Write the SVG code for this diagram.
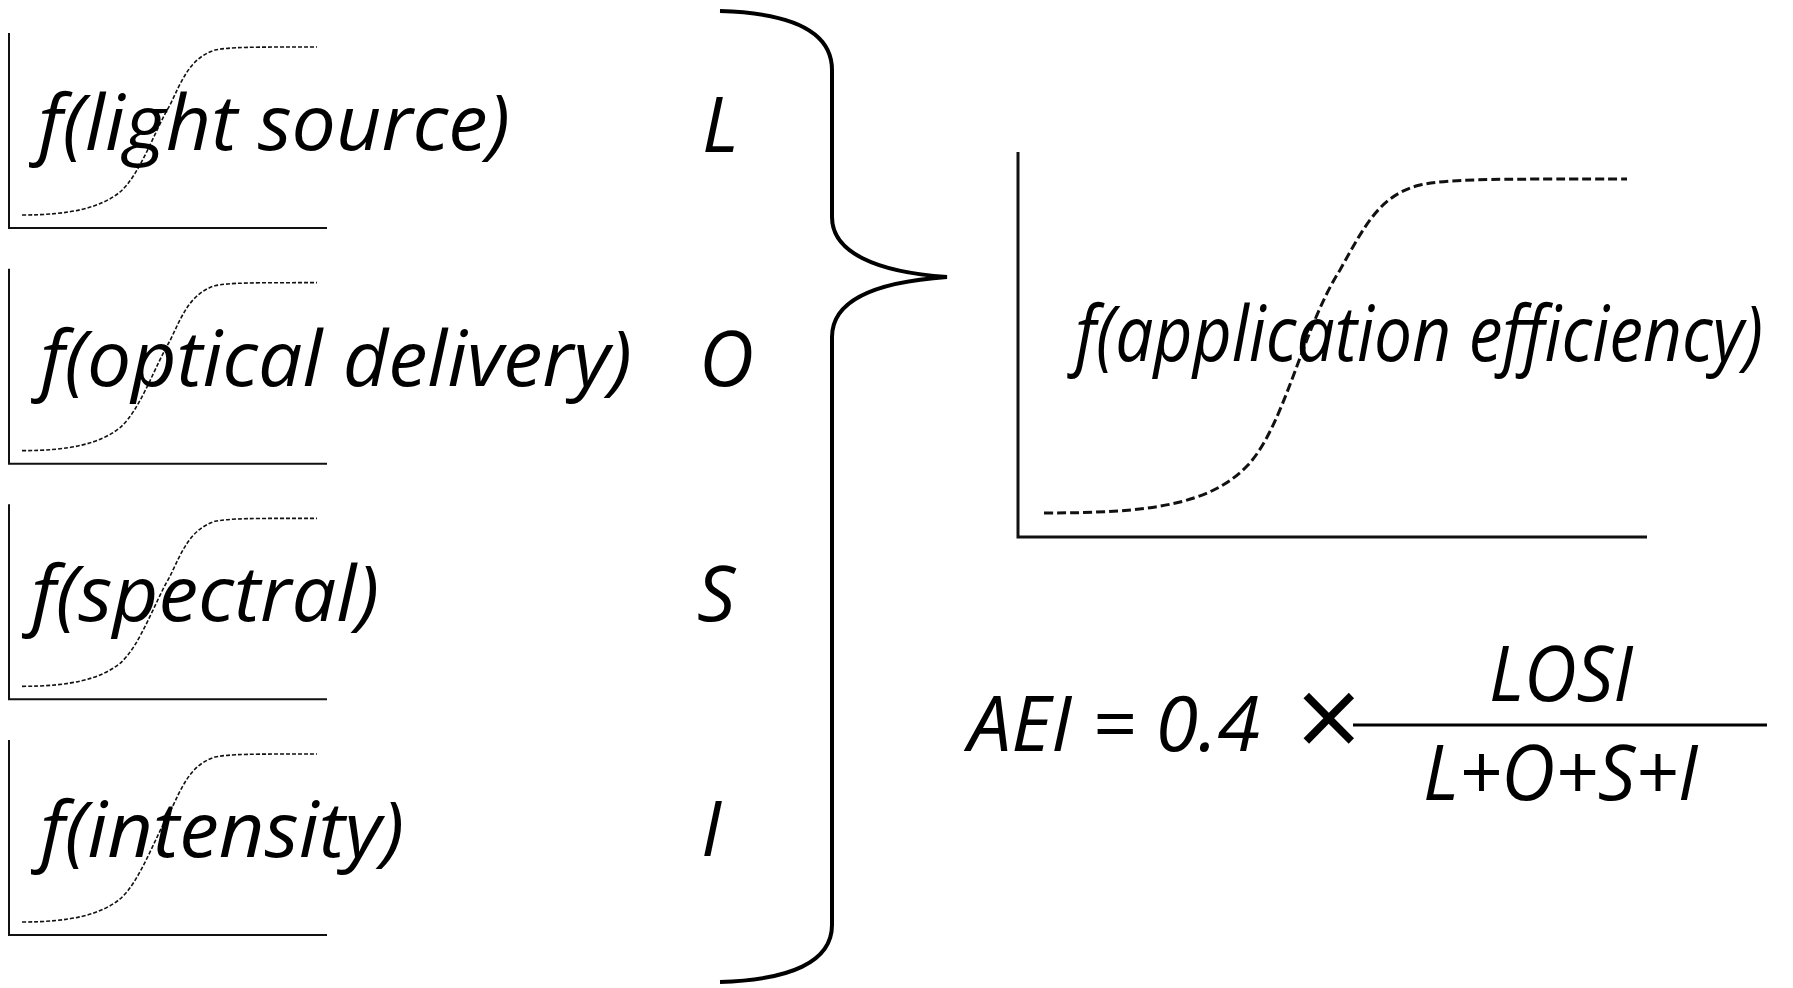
<svg xmlns="http://www.w3.org/2000/svg" width="1793" height="988" viewBox="0 0 1793 988">
<defs>
<style>
.t{font-family:"Open Sans","Liberation Sans",sans-serif;font-style:italic;font-weight:500;font-size:76px;fill:#000}
.x{font-family:"Open Sans","Liberation Sans",sans-serif;font-style:normal;font-weight:400;font-size:115px;fill:#000}
.ax{stroke:#111;stroke-width:2;fill:none}
.axb{stroke:#111;stroke-width:3;fill:none}
.cs{stroke:#111;stroke-width:1.6;fill:none;stroke-dasharray:4 2}
.cb{stroke:#111;stroke-width:3;fill:none;stroke-dasharray:9 4}
</style>
<path id="sig" class="cs" d="M22,215 C70,215 100,208 120,192 C140,175 155,130 170,105 C182,80 190,58 215,50 C230,47 250,47 317,47"/>
</defs>
<rect width="1793" height="988" fill="#fff"/>
<g id="chart-light">
<path class="ax" d="M9,33 L9,228 L327,228"/>
<use href="#sig"/>
<text class="t" x="38" y="150" textLength="472" lengthAdjust="spacingAndGlyphs">f(light source)</text>
</g>
<g id="chart-optical" transform="translate(0,235.67)">
<path class="ax" d="M9,33 L9,228 L327,228"/>
<use href="#sig"/>
<text class="t" x="40" y="150" textLength="592" lengthAdjust="spacingAndGlyphs">f(optical delivery)</text>
</g>
<g id="chart-spectral" transform="translate(0,471.33)">
<path class="ax" d="M9,33 L9,228 L327,228"/>
<use href="#sig"/>
<text class="t" x="31" y="150" textLength="348" lengthAdjust="spacingAndGlyphs">f(spectral)</text>
</g>
<g id="chart-intensity" transform="translate(0,707)">
<path class="ax" d="M9,33 L9,228 L327,228"/>
<use href="#sig"/>
<text class="t" x="40" y="150" textLength="364" lengthAdjust="spacingAndGlyphs">f(intensity)</text>
</g>
<g id="letters">
<text class="t" x="702" y="152">L</text>
<text class="t" x="699" y="386">O</text>
<text class="t" x="697" y="621">S</text>
<text class="t" x="701" y="856">I</text>
</g>
<g id="connectors">
<path d="M720,11 C790,13 832,30 832,70 L832,217 C832,252 875,272 947,277 C875,282 832,300 832,337 L832,925 C832,962 790,980 720,982" fill="none" stroke="#000" stroke-width="4"/>
</g>
<g id="chart-efficiency">
<path class="axb" d="M1018,152 L1018,537 L1647,537"/>
<path class="cb" d="M1044,513 C1150,513 1210,505 1248,465 C1285,425 1302,330 1340,270 C1365,225 1380,195 1420,185 C1450,179 1480,179 1627,179"/>
<text class="t" x="1075" y="361" textLength="688" lengthAdjust="spacingAndGlyphs">f(application efficiency)</text>
</g>
<g id="formula">
<text class="t" x="968" y="751" textLength="292" lengthAdjust="spacingAndGlyphs">AEI = 0.4</text>
<text class="x" x="1329" y="759" text-anchor="middle">×</text>
<line x1="1353" y1="725" x2="1767" y2="725" stroke="#000" stroke-width="3"/>
<text class="t" x="1489" y="701" textLength="144" lengthAdjust="spacingAndGlyphs">LOSI</text>
<text class="t" x="1423" y="800" textLength="275" lengthAdjust="spacingAndGlyphs">L+O+S+I</text>
</g>
</svg>
